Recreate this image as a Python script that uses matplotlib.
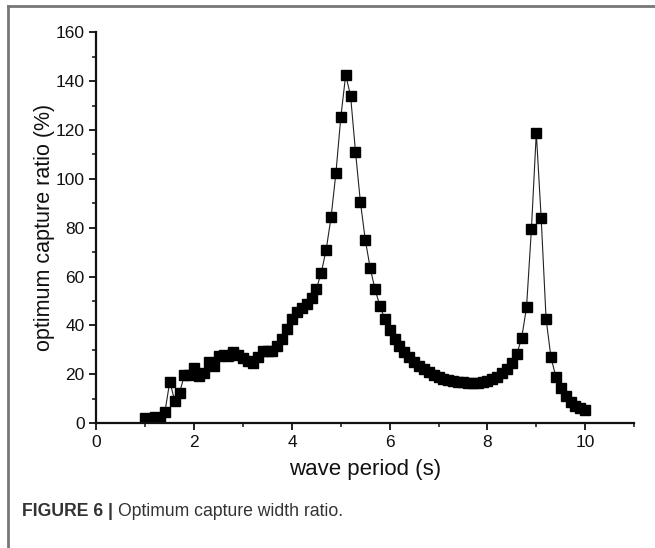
import matplotlib
matplotlib.use("Agg")
from matplotlib import pyplot as plt
from matplotlib.lines import Line2D
from matplotlib.ticker import MultipleLocator

plt.rcParams['font.family'] = ['Liberation Sans', 'DejaVu Sans']

# wave period (s)
period = [1.0, 1.1, 1.2, 1.3, 1.4, 1.5, 1.6, 1.7, 1.8, 1.9,
          2.0, 2.1, 2.2, 2.3, 2.4, 2.5, 2.6, 2.7, 2.8, 2.9,
          3.0, 3.1, 3.2, 3.3, 3.4, 3.5, 3.6, 3.7, 3.8, 3.9,
          4.0, 4.1, 4.2, 4.3, 4.4, 4.5, 4.6, 4.7, 4.8, 4.9,
          5.0, 5.1, 5.2, 5.3, 5.4, 5.5, 5.6, 5.7, 5.8, 5.9,
          6.0, 6.1, 6.2, 6.3, 6.4, 6.5, 6.6, 6.7, 6.8, 6.9,
          7.0, 7.1, 7.2, 7.3, 7.4, 7.5, 7.6, 7.7, 7.8, 7.9,
          8.0, 8.1, 8.2, 8.3, 8.4, 8.5, 8.6, 8.7, 8.8, 8.9,
          9.0, 9.1, 9.2, 9.3, 9.4, 9.5, 9.6, 9.7, 9.8, 9.9,
          10.0]

# optimum capture width ratio (%)
ratio = [2.2, 1.2, 2.6, 1.6, 4.5, 17.0, 9.2, 12.5, 19.6, 19.7,
         22.5, 19.3, 20.4, 24.8, 23.3, 27.3, 27.8, 27.5, 29.2, 27.8,
         26.8, 25.3, 24.7, 27.0, 29.7, 29.6, 29.7, 31.4, 34.5, 38.7,
         42.5, 45.4, 47.2, 48.8, 51.2, 55.0, 61.6, 71.0, 84.2, 102.5,
         125.3, 142.6, 133.9, 111.1, 90.6, 75.1, 63.6, 54.7, 48.0, 42.5,
         38.1, 34.5, 31.7, 29.2, 26.9, 25.1, 23.5, 22.1, 20.9, 19.8,
         19.0, 18.2, 17.6, 17.2, 16.8, 16.7, 16.5, 16.5, 16.5, 16.7,
         17.2, 17.9, 19.0, 20.3, 22.0, 24.4, 28.2, 34.8, 47.4, 79.4,
         118.9, 83.8, 42.7, 26.9, 19.0, 14.5, 11.1, 8.7, 7.1, 6.3,
         5.3]

fig = plt.figure(figsize=(6.55, 5.48), dpi=100)
ax = fig.add_axes([0.1473, 0.228, 0.968 - 0.1473, 0.941 - 0.228])

ax.plot(period, ratio, color="#222222", linewidth=0.8,
        marker="s", markersize=6.8, markerfacecolor="black",
        markeredgecolor="black")

ax.set_xlim(0, 11)
ax.set_ylim(0, 160)
ax.xaxis.set_major_locator(MultipleLocator(2))
ax.xaxis.set_minor_locator(MultipleLocator(1))
ax.yaxis.set_major_locator(MultipleLocator(20))
ax.yaxis.set_minor_locator(MultipleLocator(10))

for side in ["top", "right"]:
    ax.spines[side].set_visible(False)
for side in ["left", "bottom"]:
    ax.spines[side].set_linewidth(1.6)
    ax.spines[side].set_color("#111111")

ax.tick_params(which="major", direction="out", length=5, width=1.3,
               labelsize=12.5, pad=3.5, colors="#111111")
ax.tick_params(which="minor", direction="out", length=3, width=1.1,
               colors="#111111")

ax.set_xlabel("wave period (s)", fontsize=16, labelpad=6.5, color="#111111")
ax.set_ylabel("optimum capture ratio (%)", fontsize=15.5, color="#111111")
# put the y label centre about 51 px left of the axis line
ax.yaxis.set_label_coords(-51.5 / 537.5, 0.5)
ax.yaxis.label.set_verticalalignment("center")

# caption under the plot: bold label, then the description right after it
cap_y = 1 - 512 / 548
bold = fig.text(22 / 655, cap_y, "FIGURE 6 |", fontsize=12.7,
                fontweight="bold", color="#333333", va="center", ha="left")
fig.canvas.draw()
bb = bold.get_window_extent().transformed(fig.transFigure.inverted())
fig.text(bb.x1 + 5 / 655, cap_y, "Optimum capture width ratio.",
         fontsize=12.7, color="#333333", va="center", ha="left")

# gray frame lines along the top and left edges
fig.add_artist(Line2D([8 / 655, 1], [1 - 6 / 548, 1 - 6 / 548],
                      color="#777777", linewidth=2))
fig.add_artist(Line2D([8 / 655, 8 / 655], [0, 1 - 6 / 548],
                      color="#777777", linewidth=2))

fig.savefig("out.png", dpi=100)
